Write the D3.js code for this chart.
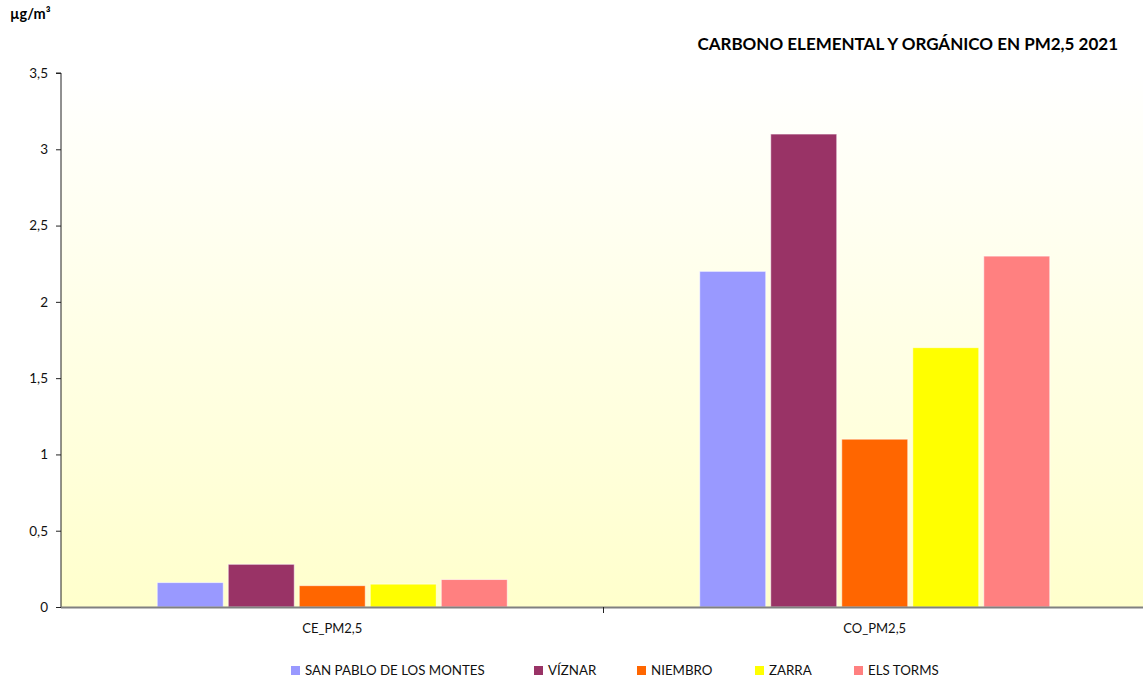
<!DOCTYPE html>
<html><head><meta charset="utf-8">
<script src="https://cdn.jsdelivr.net/npm/d3@7"></script>
<style>body{margin:0;background:#fff}svg{display:block;font-family:Lato,"Open Sans",sans-serif}</style>
</head><body><svg id="c" width="1143" height="679"></svg>
<script>
const categories = ["CE_PM2,5", "CO_PM2,5"];
const series = ["SAN PABLO DE LOS MONTES", "VÍZNAR", "NIEMBRO", "ZARRA", "ELS TORMS"];
const colors = ["#9999FF", "#993366", "#FF6600", "#FFFF00", "#FF8080"];
const valuesCE = [0.16, 0.28, 0.14, 0.15, 0.18];
const valuesCO = [2.2, 3.1, 1.1, 1.7, 2.3];
const yTicks = [0, 0.5, 1, 1.5, 2, 2.5, 3, 3.5];
const title = "CARBONO ELEMENTAL Y ORGÁNICO EN PM2,5 2021";
const unit = "µg/m³";

const data = [valuesCE, valuesCO];
const svg = d3.select("#c");
const L = 61, R = 1146, T = 73, B = 607;

const defs = svg.append("defs");
const g = defs.append("linearGradient").attr("id","bg").attr("x1",0).attr("y1",0).attr("x2",0).attr("y2",1);
g.append("stop").attr("offset","0%").attr("stop-color","#FFFFFF");
g.append("stop").attr("offset","100%").attr("stop-color","#FFFFCC");

svg.append("rect").attr("x",L).attr("y",T).attr("width",R-L).attr("height",B-T).attr("fill","url(#bg)");

const x0 = d3.scaleBand().domain(categories).range([L,R]);
const x1 = d3.scaleBand().domain(series).range([0,x0.bandwidth()]).paddingInner(0.07).paddingOuter(1.355);
const y = d3.scaleLinear().domain([0,3.5]).range([B,T]);

const fmt = d => String(d).replace(".", ",");

// bars
categories.forEach((c,ci)=>{
  svg.append("g").selectAll("rect").data(series).join("rect")
    .attr("x", s=>x0(c)+x1(s))
    .attr("y", (s,i)=>y(data[ci][i]))
    .attr("width", x1.bandwidth())
    .attr("height", (s,i)=>B-y(data[ci][i]))
    .attr("fill", (s,i)=>colors[i])
    .attr("stroke", "rgba(255,255,255,0.6)").attr("stroke-width",1);
});

// y axis
const ya = svg.append("g").attr("transform",`translate(${L},0)`)
  .call(d3.axisLeft(y).tickValues(yTicks).tickFormat(fmt).tickSize(5).tickPadding(8));
ya.select(".domain").attr("stroke","#222").attr("d",`M-5,${T}H0V${B}`);
ya.selectAll(".tick line").attr("stroke","#222");
ya.selectAll("text").attr("font-size",13.5).attr("fill","#111").attr("font-family","Lato");

// x axis
const xa = svg.append("g").attr("transform",`translate(0,${B})`)
  .call(d3.axisBottom(x0).tickSize(0).tickPadding(17));
xa.select(".domain").remove();
xa.selectAll("text").attr("font-size",13).attr("fill","#111").attr("font-family","Lato");
svg.append("line").attr("x1",L).attr("x2",R).attr("y1",B+0.5).attr("y2",B+0.5).attr("stroke","#808080").attr("stroke-width",2);
svg.append("line").attr("x1",x0(categories[1])).attr("x2",x0(categories[1])).attr("y1",B).attr("y2",B+6).attr("stroke","#222");

// title & unit
svg.append("text").attr("x",1118).attr("y",50).attr("text-anchor","end").attr("font-weight","bold")
  .attr("font-size",17).attr("fill","#000").text(title);
svg.append("text").attr("x",10).attr("y",19).attr("font-weight","bold").attr("font-size",14.5).attr("fill","#000").text(unit);

// legend
const legX = [291, 534, 637, 755, 854];
const leg = svg.append("g");
series.forEach((s,i)=>{
  leg.append("rect").attr("x",legX[i]).attr("y",666).attr("width",9).attr("height",9).attr("fill",colors[i]);
  leg.append("text").attr("x",legX[i]+14).attr("y",675).attr("font-size",13.3).attr("fill","#111").text(s);
});
</script></body></html>
